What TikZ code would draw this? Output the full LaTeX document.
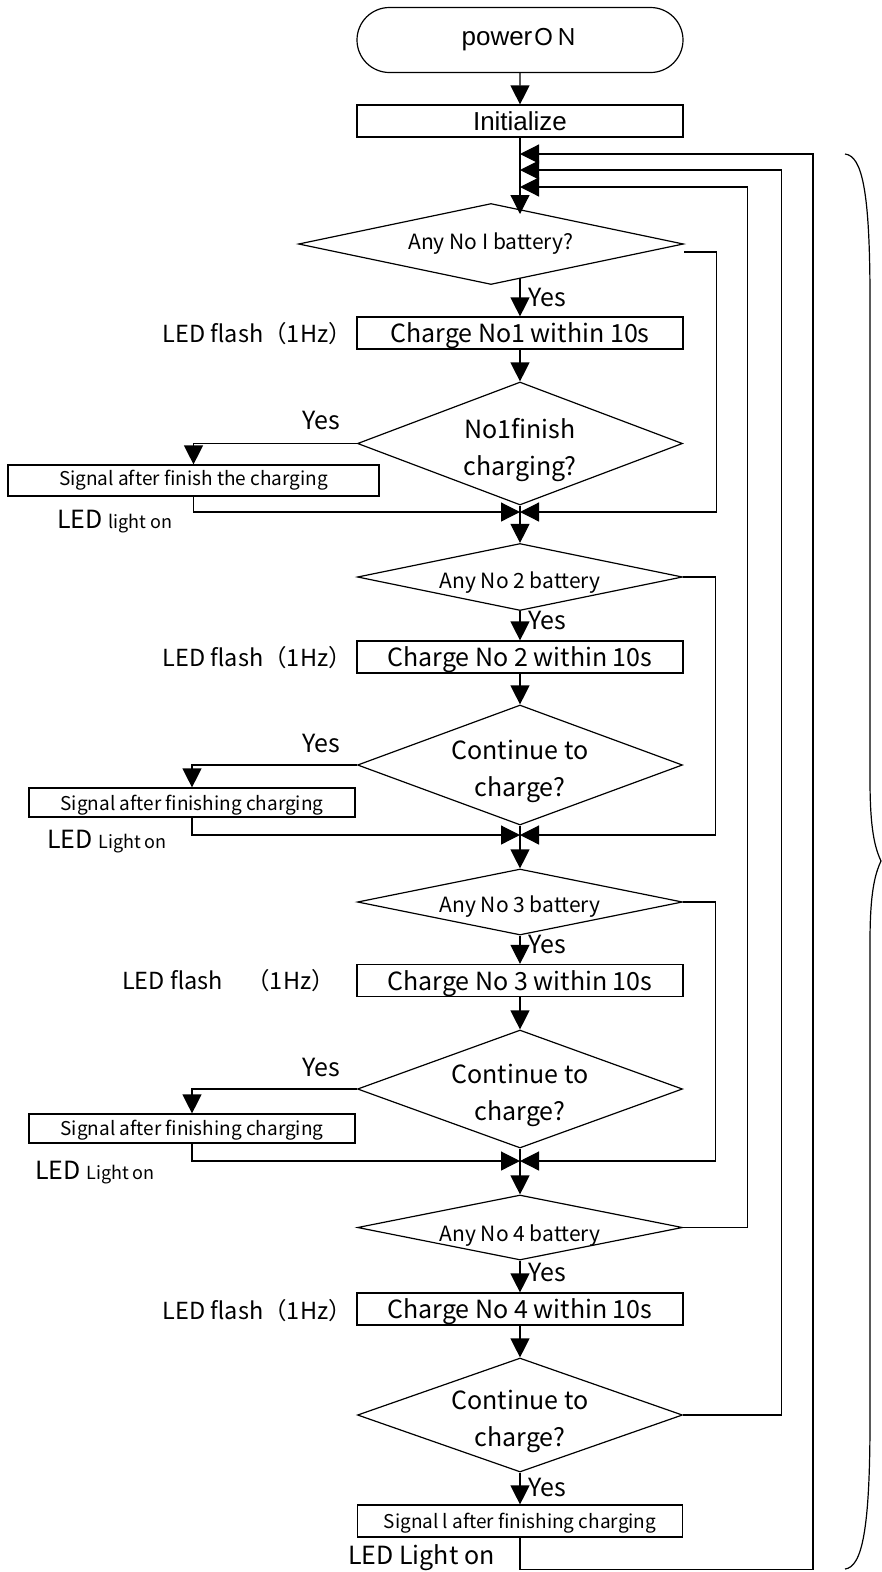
\documentclass[tikz,border=0pt]{standalone}
\usepackage{fontspec}
\setmainfont{Liberation Sans}
\newfontfamily\jp{Noto Sans CJK JP}
\usetikzlibrary{arrows.meta,shapes.geometric,shapes.misc}
\newcommand\lowr[2]{\raisebox{-#1}[\height][\depth]{#2}}
\tikzset{
 base/.style={draw, line width=1.2pt, inner sep=0pt},
 term/.style={base, rounded rectangle, minimum width=326pt, minimum height=65pt, font=\fontsize{26}{30}\selectfont},
 proc/.style={base, rectangle, minimum width=326pt, minimum height=32pt, font=\jp\fontsize{25}{30}\selectfont},
 sig/.style={base, rectangle, minimum height=31pt, font=\jp\fontsize{19}{24}\selectfont},
 dec/.style={base, diamond, minimum width=325pt, align=center, font=\jp\fontsize{25}{37}\selectfont},
 decs/.style={base, diamond, minimum width=325pt, align=center, font=\jp\fontsize{21}{25}\selectfont},
 lbl/.style={inner sep=0pt, font=\jp\fontsize{25}{30}\selectfont},
 flash/.style={inner sep=0pt, font=\jp\fontsize{23.5}{28}\selectfont},
 flow/.style={line width=1.2pt, -{Triangle[length=19pt,width=19pt]}},
 plain/.style={line width=1.2pt},
}
\begin{document}
\begin{tikzpicture}[x=1pt,y=-1pt]
\useasboundingbox (0,0) rectangle (882,1572);
% nodes
\node[term] (on) at (520,40) {power{\jp\fontsize{23}{28}\selectfont ＯＮ}};
\node[proc, font=\fontsize{26}{30}\selectfont] (init) at (520,121) {Initialize};
\node[decs, shape aspect=4.75, minimum width=385pt, minimum height=81pt] (d1) at (491,244) {Any No I battery?};
\node[proc] (c1) at (520,333) {\lowr{3pt}{Charge No1 within 10s}};
\node[dec, shape aspect=2.64, minimum height=123pt] (d2) at (520,443.5) {\lowr{7pt}{No1finish}\\\lowr{7pt}{charging?}};
\node[sig, minimum width=371pt] (s1) at (193.5,480.5) {Signal after finish the charging};
\node[decs, shape aspect=4.85, minimum height=67pt] (d3) at (520,577) {\lowr{6pt}{Any No 2 battery}};
\node[proc] (c2) at (520,657) {\lowr{3pt}{Charge No 2 within 10s}};
\node[dec, shape aspect=2.7, minimum height=120pt] (d4) at (520,765) {\lowr{6pt}{Continue to}\\\lowr{6pt}{charge?}};
\node[sig, minimum width=326pt, minimum height=29pt] (s2) at (192,802.5) {\lowr{3pt}{Signal after finishing charging}};
\node[decs, shape aspect=4.85, minimum height=66pt] (d5) at (520,902) {\lowr{5pt}{Any No 3 battery}};
\node[proc] (c3) at (520,980.5) {\lowr{3pt}{Charge No 3 within 10s}};
\node[dec, shape aspect=2.7, minimum height=118pt] (d6) at (520,1089) {\lowr{6pt}{Continue to}\\\lowr{6pt}{charge?}};
\node[sig, minimum width=326pt, minimum height=29pt] (s3) at (192,1128.5) {\lowr{2pt}{Signal after finishing charging}};
\node[decs, shape aspect=4.85, minimum height=65pt] (d7) at (520,1227.5) {\lowr{8pt}{Any No 4 battery}};
\node[proc] (c4) at (520,1309) {\lowr{3pt}{Charge No 4 within 10s}};
\node[dec, shape aspect=2.7, minimum height=114pt] (d8) at (520,1415) {\lowr{6pt}{Continue to}\\\lowr{6pt}{charge?}};
\node[sig, minimum width=325pt, minimum height=32pt] (s4) at (520,1521) {\lowr{2pt}{Signal l after finishing charging}};
% labels
\node[lbl, anchor=west] (y1) at (528,297) {Yes};
\node[lbl, anchor=west] (y3) at (528,620) {Yes};
\node[lbl, anchor=west] (y5) at (528,944) {Yes};
\node[lbl, anchor=west] (y7) at (528,1272) {Yes};
\node[lbl, anchor=west] (y8) at (528,1487) {Yes};
\node[lbl] (y2) at (321,420) {Yes};
\node[lbl] (y4) at (321,743) {Yes};
\node[lbl] (y6) at (321,1067) {Yes};
\node[flash, anchor=east] (f1) at (352,334) {LED flash（1Hz）};
\node[flash, anchor=east] (f2) at (352,658) {LED flash（1Hz）};
\node[flash, anchor=east] (f3) at (335,981) {LED flash　（1Hz）};
\node[flash, anchor=east] (f4) at (352,1311) {LED flash（1Hz）};
\node[lbl, anchor=west] (l1) at (57,522) {LED {\fontsize{18}{20}\selectfont light on}};
\node[lbl, anchor=west] (l2) at (47,842) {LED {\fontsize{18}{20}\selectfont Light on}};
\node[lbl, anchor=west] (l3) at (35,1173) {LED {\fontsize{18}{20}\selectfont Light on}};
\node[lbl, anchor=west] (l4) at (348,1558) {LED Light on};
% junction coordinates
\coordinate (j1) at (520,154);
\coordinate (j2) at (520,170);
\coordinate (j3) at (520,187);
\coordinate (d1in) at (520,214);
\coordinate (d1out) at (520,278);
\coordinate (m1) at (520,512);
\coordinate (m2) at (520,835);
\coordinate (m3) at (520,1161);
% main flow
\draw[flow] (on) -- (init);
\draw[flow] (init) -- (d1in);
\draw[flow] (d1out) -- (c1);
\draw[flow] (c1) -- (d2);
\draw[flow] (d2) -- (d3);
\draw[flow] (d3) -- (c2);
\draw[flow] (c2) -- (d4);
\draw[flow] (d4) -- (d5);
\draw[flow] (d5) -- (c3);
\draw[flow] (c3) -- (d6);
\draw[flow] (d6) -- (d7);
\draw[flow] (d7) -- (c4);
\draw[flow] (c4) -- (d8);
\draw[flow] (d8) -- (s4);
% yes branches to the left
\draw[flow] (d2.west) -| (s1.north);
\draw[flow] (s1.south) |- (m1);
\draw[flow] (d4.west) -| (s2.north);
\draw[flow] (s2.south) |- (m2);
\draw[flow] (d6.west) -| (s3.north);
\draw[flow] (s3.south) |- (m3);
% no branches to the right
\draw[flow] ([yshift=-8pt]d1.east) -- ++(32,0) |- (m1);
\draw[flow] (d3.east) -- ++(32,0) |- (m2);
\draw[flow] (d5.east) -- ++(32,0) |- (m3);
\draw[flow] (d7.east) -- ++(64.5,0) |- (j3);
\draw[flow] (d8.east) -- ++(98.5,0) |- (j2);
\draw[flow] (s4.south) -- ++(0,32) -- ++(293,0) |- (j1);
% brace
\draw[plain] (845,154) .. controls (862,156) and (870,190) .. (870,300) -- (870,780)
  .. controls (870,830) and (875,848) .. (881,861)
  .. controls (875,874) and (870,892) .. (870,942) -- (870,1420)
  .. controls (870,1530) and (862,1567) .. (845,1569);
\end{tikzpicture}
\end{document}
